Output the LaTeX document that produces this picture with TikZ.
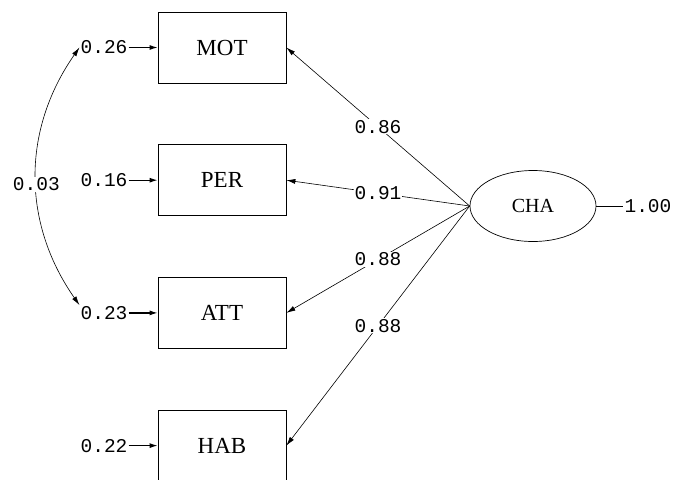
\documentclass[tikz,border=0pt]{standalone}
\usepackage{fontspec}
\newfontfamily\numfont{Liberation Mono}
\newfontfamily\boxfont{Liberation Serif}
\usepackage{tikz}
\usetikzlibrary{positioning, shapes, shapes.geometric, arrows.meta, calc}

\begin{document}
\begin{tikzpicture}[
    x=1pt, y=-1pt,
    box/.style={draw, line width=0.7pt, minimum width=128pt, minimum height=71pt, inner sep=0pt, font=\boxfont\fontsize{23}{23}\selectfont},
    latent/.style={draw, ellipse, line width=0.7pt, minimum width=126pt, minimum height=71pt, inner sep=0pt, font=\boxfont\fontsize{20}{20}\selectfont},
    num/.style={inner sep=1pt, font=\numfont\fontsize{19.5}{19.5}\selectfont},
    lbl/.style={num, fill=white},
    arrow/.style={-{Latex[length=9pt, width=5pt]}, line width=0.6pt},
    errarrow/.style={-{Latex[length=8pt, width=5pt]}, line width=1.2pt},
    covarrow/.style={{Latex[length=9pt, width=5pt]}-{Latex[length=9pt, width=5pt]}, line width=0.6pt}
]
\useasboundingbox (0,0) rectangle (682,479);

% Indicators
\node[box] (MOT) at (222,47.5) {MOT};
\node[box, below=61pt of MOT] (PER) {PER};
\node[box, below=61pt of PER] (ATT) {ATT};
\node[box, below=61pt of ATT] (HAB) {HAB};

% Latent variable
\node[latent] (CHA) at (533,206) {CHA};
\node[num, right=27pt of CHA] (vCHA) {1.00};

% Error variances
\node[num, left=29pt of MOT] (eMOT) {0.26};
\node[num, left=29pt of PER] (ePER) {0.16};
\node[num, left=29pt of ATT] (eATT) {0.23};
\node[num, left=29pt of HAB] (eHAB) {0.22};

% Connections
\draw[arrow] (CHA.west) -- node[lbl, pos=0.5] {0.86} (MOT.east);
\draw[arrow] (CHA.west) -- node[lbl, pos=0.5] {0.91} (PER.east);
\draw[arrow] (CHA.west) -- node[lbl, pos=0.5] {0.88} (ATT.east);
\draw[arrow] (CHA.west) -- node[lbl, pos=0.5] {0.88} (HAB.east);
\draw[line width=0.6pt] (CHA.east) -- (vCHA);

\draw[errarrow] (eMOT) -- (MOT);
\draw[errarrow] (ePER) -- (PER);
\draw[errarrow] (eATT) -- (ATT);
\draw[errarrow] (eHAB) -- (HAB);

% Error covariance
\draw[covarrow] (eMOT.west) to[bend right=35] node[lbl, pos=0.53] {0.03} (eATT.north west);

\end{tikzpicture}
\end{document}
